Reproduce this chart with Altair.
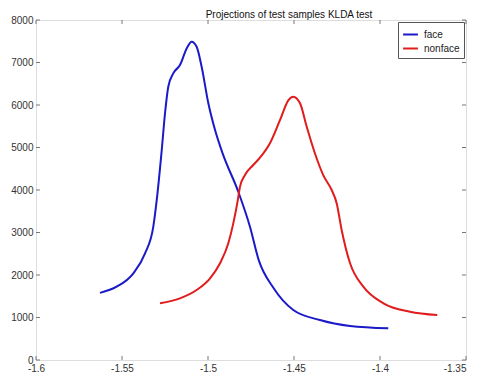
import altair as alt
import pandas as pd

face_x = [-1.5628, -1.5531, -1.5434, -1.5366, -1.5318, -1.5298, -1.5269, -1.525, -1.5231,
          -1.5202, -1.5163, -1.5124, -1.5095, -1.5066, -1.5037, -1.4998, -1.4959, -1.4915,
          -1.4824, -1.4756, -1.4705, -1.462, -1.4504, -1.4349, -1.4174, -1.3952]
face_y = [1580, 1725, 2040, 2510, 3137, 3765, 4940, 5800, 6430,
          6745, 6940, 7330, 7490, 7370, 6900, 6040, 5410, 4860,
          3960, 3137, 2350, 1700, 1176, 941, 800, 745]

nonface_x = [-1.5279, -1.5163, -1.5066, -1.4988, -1.493, -1.4882, -1.4853, -1.483, -1.4814,
             -1.4785, -1.4737, -1.4698, -1.464, -1.4581, -1.4533, -1.4504, -1.4465, -1.4426,
             -1.4378, -1.433, -1.4281, -1.4252, -1.4223, -1.4174, -1.4097, -1.398, -1.3826,
             -1.3667]
nonface_y = [1333, 1451, 1647, 1922, 2275, 2745, 3215, 3686, 4078,
             4353, 4588, 4760, 5100, 5650, 6110, 6196, 6040, 5490,
             4860, 4350, 4000, 3690, 3060, 2275, 1725, 1333, 1137,
             1059]

x_ticks = [-1.6, -1.55, -1.5, -1.45, -1.4, -1.35]
y_ticks = [0, 1000, 2000, 3000, 4000, 5000, 6000, 7000, 8000]

series_names = ["face", "nonface"]
series_colors = ["#1a1ac8", "#e01c1c"]
title_text = "Projections of test samples KLDA test"

rows = []
for i, (xv, yv) in enumerate(zip(face_x, face_y)):
    rows.append({"x": xv, "y": yv, "series": "face", "i": i})
for i, (xv, yv) in enumerate(zip(nonface_x, nonface_y)):
    rows.append({"x": xv, "y": yv, "series": "nonface", "i": i})
df = pd.DataFrame(rows)

FONT = "Liberation Sans"
GRAY = "#777777"
xscale = alt.Scale(domain=[-1.6, -1.35], nice=False, zero=False)
yscale = alt.Scale(domain=[0, 8000], nice=False, zero=False)

lines = alt.Chart(df).mark_line(strokeWidth=2, interpolate="monotone").encode(
    x=alt.X("x:Q", scale=xscale, axis=alt.Axis(
        values=x_ticks, labelExpr="'' + datum.value", title=None, grid=False,
        domain=False, ticks=False, labelPadding=3, labelFont=FONT, labelFontSize=10,
        labelColor="#333333", labelFlush=False, labelOverlap=False,
        labelAlign={"expr": "datum.value > -1.36 ? 'right' : 'center'"})),
    y=alt.Y("y:Q", scale=yscale, axis=alt.Axis(
        values=y_ticks, labelExpr="'' + datum.value", title=None, grid=False,
        domain=False, ticks=False, labelPadding=3, labelFont=FONT, labelFontSize=10,
        labelColor="#333333", labelFlush=False, labelOverlap=False)),
    color=alt.Color("series:N", scale=alt.Scale(domain=series_names, range=series_colors),
                    legend=alt.Legend(
                        title=None, orient="top-right", offset=2, padding=4,
                        strokeColor="#555555", fillColor="white", symbolType="stroke",
                        symbolStrokeWidth=2, symbolSize=220, labelFont=FONT,
                        labelFontSize=10, labelColor="#222222", rowPadding=0,
                        labelOffset=5, cornerRadius=0)),
    order="i:Q",
)

xt = pd.DataFrame({"v": x_ticks})
yt = pd.DataFrame({"v": y_ticks})

bottom_ticks = alt.Chart(xt).mark_rule(color=GRAY).encode(
    x=alt.X("v:Q", scale=xscale), y=alt.value(340), y2=alt.value(336))
top_ticks = alt.Chart(xt).mark_rule(color=GRAY).encode(
    x=alt.X("v:Q", scale=xscale), y=alt.value(0), y2=alt.value(4))
left_ticks = alt.Chart(yt).mark_rule(color=GRAY).encode(
    y=alt.Y("v:Q", scale=yscale), x=alt.value(0), x2=alt.value(4))
right_ticks = alt.Chart(yt).mark_rule(color=GRAY).encode(
    y=alt.Y("v:Q", scale=yscale), x=alt.value(430), x2=alt.value(426))

title = alt.Chart(pd.DataFrame({"t": [title_text]})).mark_text(
    font=FONT, fontSize=10, color="#111111", baseline="alphabetic", align="center"
).encode(text="t:N", x=alt.value(253), y=alt.value(-2))

chart = alt.layer(lines, bottom_ticks, top_ticks, left_ticks, right_ticks, title).properties(
    width=430, height=340,
    autosize=alt.AutoSizeParams(type="none"),
    padding={"left": 28, "top": 12, "right": 3, "bottom": 16},
).configure_view(stroke=GRAY, strokeWidth=1).configure(background="white")

chart.save("out.html", embed_options={"renderer": "svg", "actions": False})
